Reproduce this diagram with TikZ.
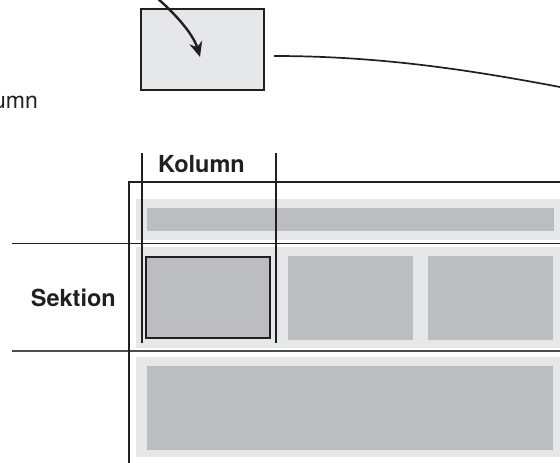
\documentclass[tikz,border=0pt]{standalone}
\usepackage{fontspec}
\setmainfont{TeX Gyre Heros}
\usetikzlibrary{arrows.meta}
\definecolor{bandgray}{HTML}{E6E7E8}
\definecolor{boxgray}{HTML}{BCBDC0}
\definecolor{ink}{HTML}{231F20}
\tikzset{
  band/.style={fill=bandgray, draw=none},
  cell/.style={fill=boxgray, draw=none},
  frameline/.style={draw=ink, line width=2pt},
  guide/.style={draw=ink, line width=1pt},
  lbl/.style={font=\fontsize{23.5}{26}\selectfont\bfseries, text=ink, inner sep=0pt},
}
\begin{document}
\begin{tikzpicture}[x=1pt,y=-1pt]
\useasboundingbox (0,0) rectangle (560,463);
% bands
\fill[band] (136,199) rectangle (560,240);
\fill[cell] (147,208) rectangle (554,231);
\fill[band] (136,247) rectangle (560,348);
\fill[cell] (145,256) rectangle (271,339);
\fill[cell] (288,256) rectangle (413,340);
\fill[cell] (428,256) rectangle (553,340);
\fill[band] (136,357) rectangle (560,457);
\fill[cell] (147,366) rectangle (553,450);
% highlighted cell border
\node[draw=ink, line width=2.2pt, minimum width=124pt, minimum height=81pt, inner sep=0pt] (cellA) at (208,297.5) {};
% guides
\coordinate (g1a) at (12,243); \coordinate (g1b) at (560,243);
\coordinate (g2a) at (12,351); \coordinate (g2b) at (560,351);
\draw[guide, line width=0.9pt] (g1a) -- (g1b);
\draw[guide, draw=ink!80, line width=1.3pt] (g2a) -- (g2b);
% frame
\coordinate (f0) at (129,463); \coordinate (f1) at (129,182); \coordinate (f2) at (560,182);
\draw[frameline] (f0) -- (f1) -- (f2);
% column lines
\coordinate (k1t) at (142,153); \coordinate (k1b) at (142,343);
\coordinate (k2t) at (276,153); \coordinate (k2b) at (276,343);
\draw[frameline] (k1t) -- (k1b);
\draw[frameline] (k2t) -- (k2b);
% labels
\node[lbl, anchor=base] (kolumn) at (201.5,172) {Kolumn};
\node[lbl, anchor=base east] (sektion) at (116,306) {Sektion};
\node[font=\fontsize{23}{26}\selectfont, text=ink, inner sep=0pt, anchor=base east] (kolumn2) at (38,108) {Kolumn};
% small box
\node[draw=ink, fill=bandgray, line width=2.4pt, minimum width=123pt, minimum height=81pt, inner sep=0pt] (box) at (202.5,49.5) {};
% arrow into box
\coordinate (a0) at (150,-8);
\coordinate (tip) at (200,57);
\draw[ink, line width=2.4pt, -{Stealth[length=15pt,width=13pt]}] (a0) .. controls (172,10) and (193,33) .. (tip);
% curve out of box
\coordinate (c1) at (274,56);
\coordinate (c2) at (560,87);
\draw[ink, line width=1.7pt] (c1) .. controls (380,56) and (470,70) .. (c2);
\end{tikzpicture}
\end{document}
